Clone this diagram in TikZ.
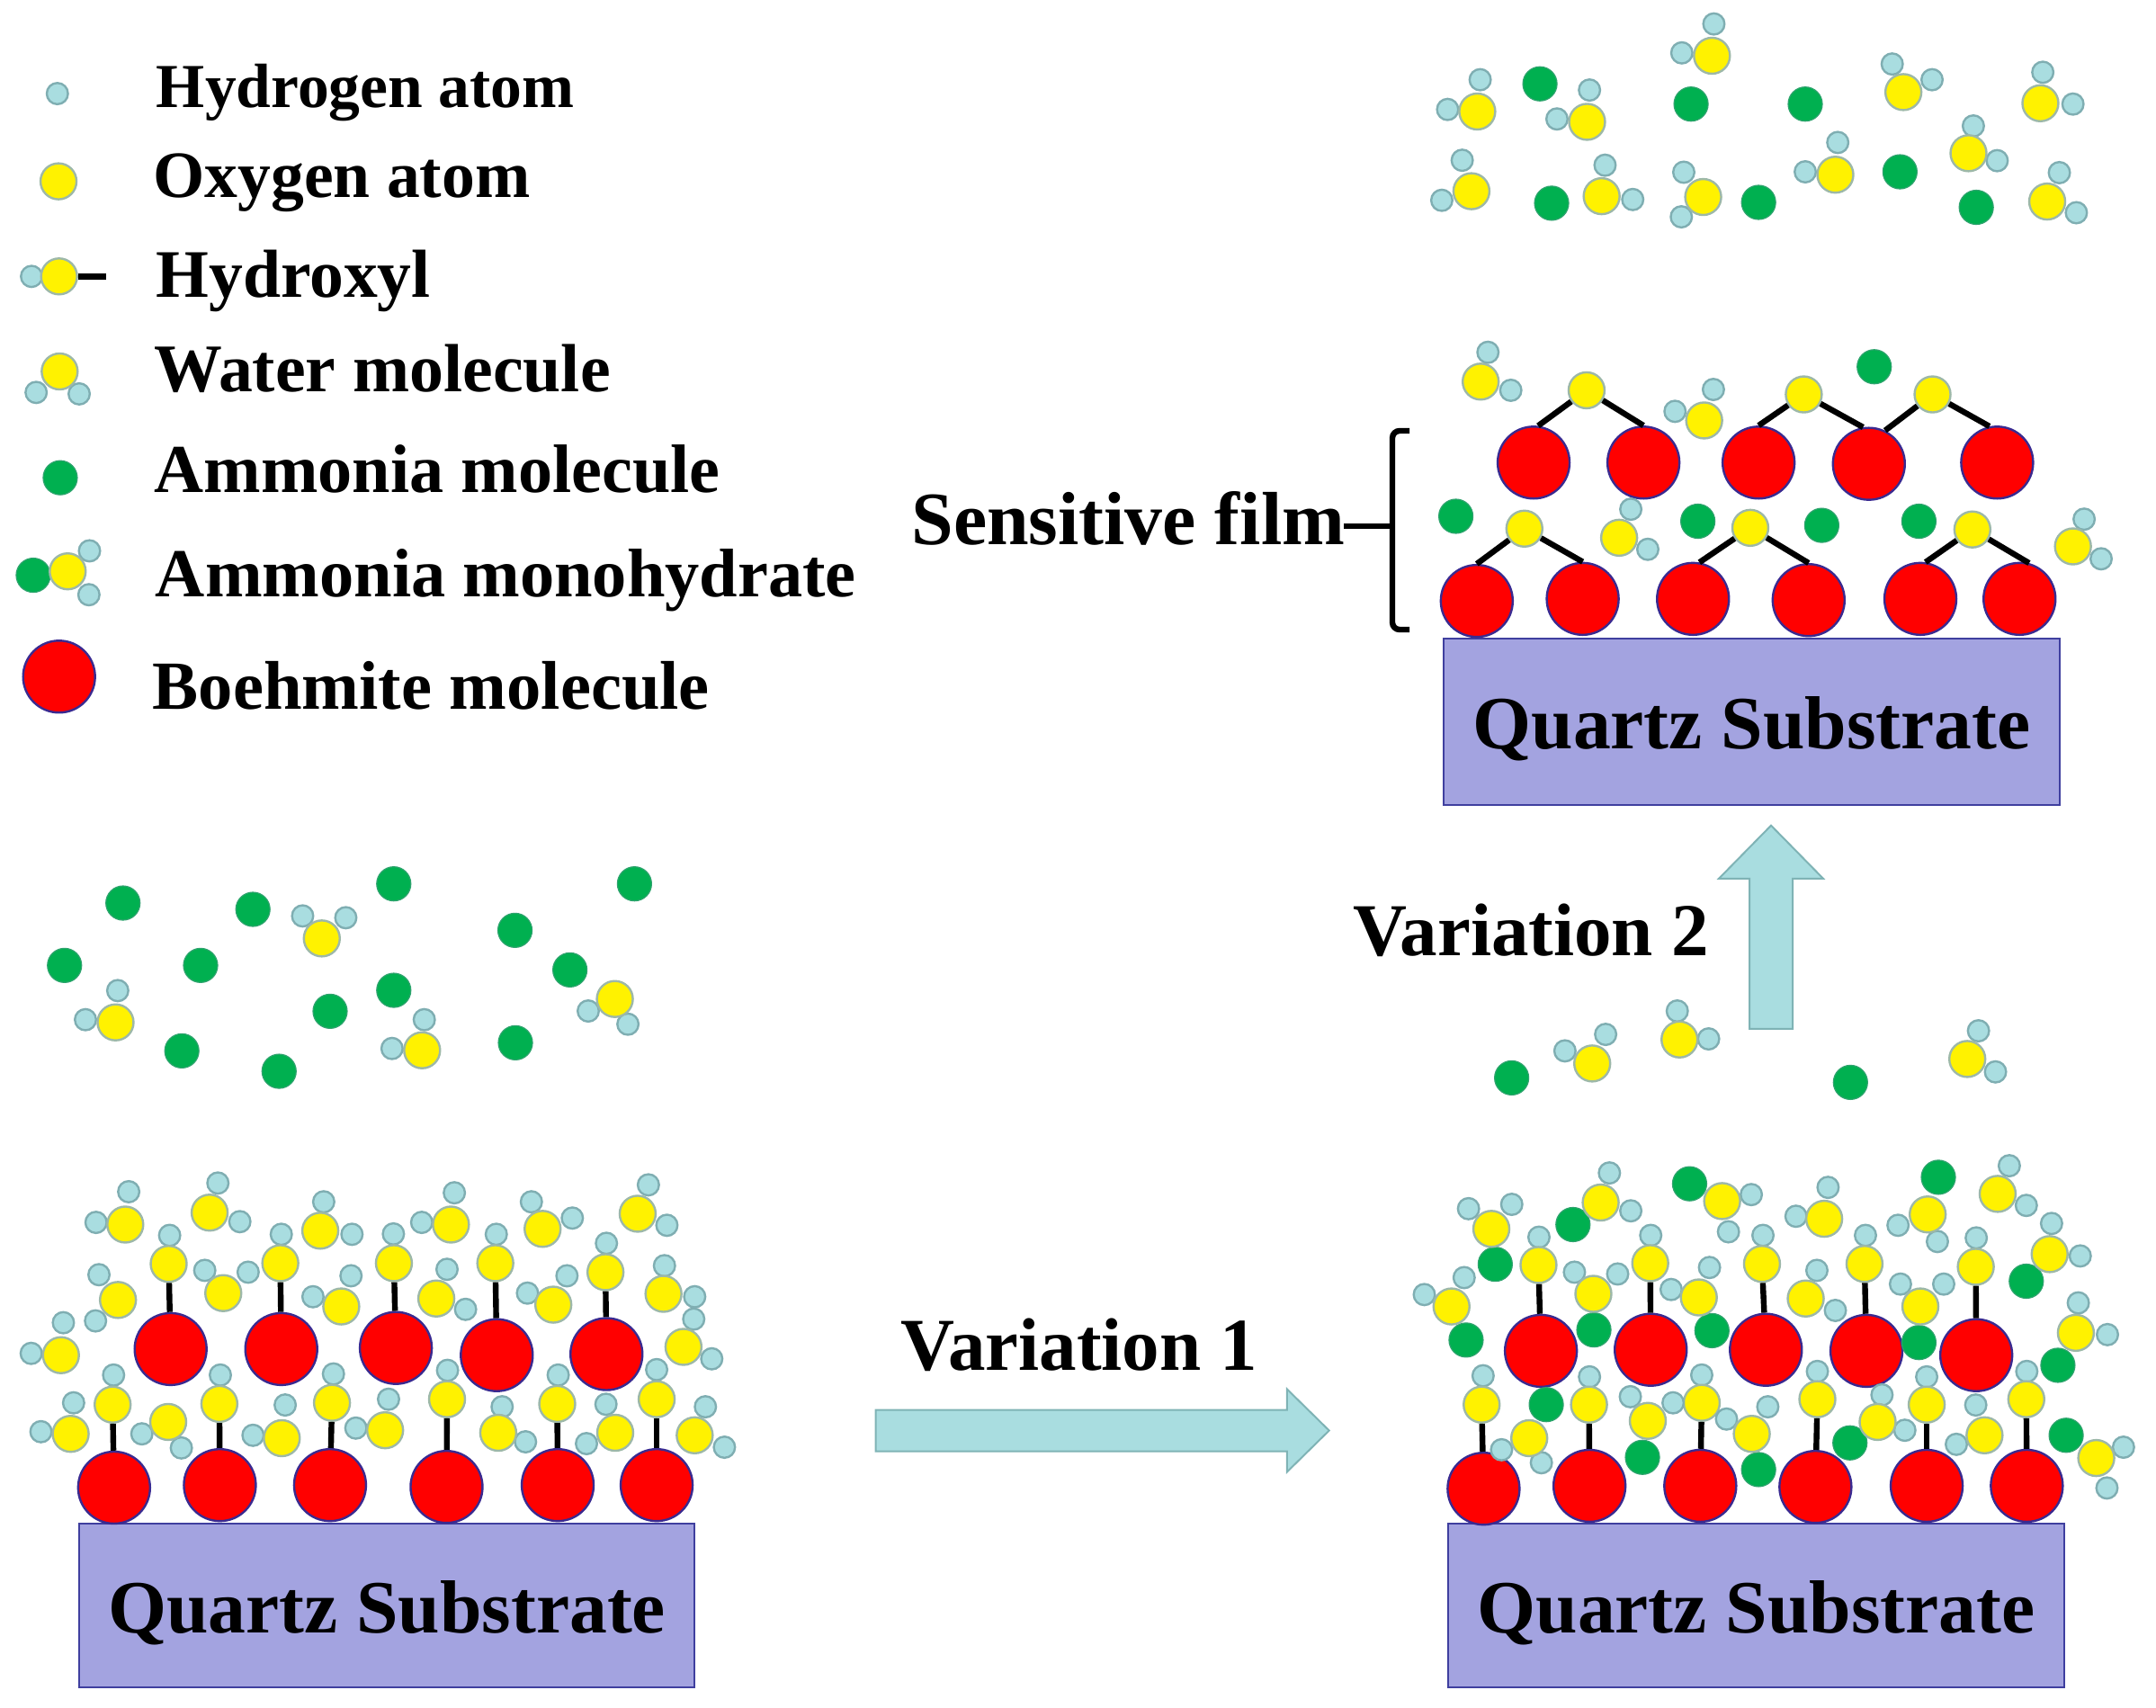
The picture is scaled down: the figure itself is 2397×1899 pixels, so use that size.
\documentclass[tikz,border=0pt]{standalone}
\usepackage{fontspec}
\setmainfont{Liberation Serif}
\usetikzlibrary{shapes.arrows}

\definecolor{hfill}{HTML}{A9DDE0}
\definecolor{hline}{HTML}{7FAEB2}
\definecolor{oline}{HTML}{9DB8A8}
\definecolor{gfill}{HTML}{00B050}
\definecolor{gline}{HTML}{2FA36E}
\definecolor{rline}{HTML}{3A2A90}
\definecolor{sfill}{HTML}{A3A3E0}
\definecolor{sline}{HTML}{3F3F9F}
\definecolor{aline}{HTML}{7FB3B5}

\tikzset{
  atom/.style={circle,inner sep=0pt,line width=1.2pt,draw},
  hyd/.style={atom,minimum size=11.8pt,fill=hfill,draw=hline},
  oxy/.style={atom,minimum size=20pt,fill=yellow,draw=oline},
  amm/.style={atom,minimum size=19pt,fill=gfill,draw=gline,line width=.6pt},
  boe/.style={atom,minimum size=40pt,fill=red,draw=rline},
  bond/.style={line width=3.2pt,black},
  sub/.style={draw=sline,fill=sfill,line width=1pt,minimum width=#1,minimum height=91pt,
    inner sep=0pt,text height=33pt,text depth=3pt,font=\fontsize{41.8}{45}\selectfont\bfseries},
  lab/.style={anchor=base west,inner sep=0pt,font=\fontsize{#1}{#1}\selectfont\bfseries},
  blockarrow/.style={single arrow,draw=aline,fill=hfill,line width=1pt,inner xsep=0pt,
    single arrow tip angle=89},
}

% water: ox/oy/h1x/h1y/h2x/h2y
\newcommand{\waters}[2]{%
  \foreach \ox/\oy/\ax/\ay/\bx/\by [count=\i] in {#2} {
    \node[hyd] (#1a\i) at (\ax,\ay) {};
    \node[hyd] (#1b\i) at (\bx,\by) {};
    \node[oxy] (#1o\i) at (\ox,\oy) {};
  }}
% ammonia monohydrate: water + green gx/gy
\newcommand{\hydrates}[2]{%
  \foreach \ox/\oy/\ax/\ay/\bx/\by/\gx/\gy [count=\i] in {#2} {
    \node[hyd] (#1a\i) at (\ax,\ay) {};
    \node[hyd] (#1b\i) at (\bx,\by) {};
    \node[amm] (#1g\i) at (\gx,\gy) {};
    \node[oxy] (#1o\i) at (\ox,\oy) {};
  }}
% boehmite with hydroxyl: rx/ry/ox/oy/hx/hy
\newcommand{\hydroxyls}[2]{%
  \foreach \rx/\ry/\ox/\oy/\hx/\hy [count=\i] in {#2} {
    \node[boe] (#1r\i) at (\rx,\ry) {};
    \node[hyd] (#1h\i) at (\hx,\hy) {};
    \node[oxy] (#1o\i) at (\ox,\oy) {};
    \draw[bond] (#1o\i) -- (#1r\i);
  }}
\newcommand{\ammonias}[2]{%
  \foreach \gx/\gy [count=\i] in {#2} {
    \node[amm] (#1g\i) at (\gx,\gy) {};
  }}

\begin{document}
\begin{tikzpicture}[x=0.5pt,y=-0.5pt]
\useasboundingbox (0,0) rectangle (2397,1899);

% legend
\node[lab=34.8] (t1) at (173.5,119.5) {Hydrogen atom};
\node[lab=36.8] (t2) at (170,220) {Oxygen atom};
\node[lab=37.8] (t3) at (173,331) {Hydroxyl};
\node[lab=37.9] (t4) at (171,435.5) {Water molecule};
\node[lab=38.1] (t5) at (171.5,547) {Ammonia molecule};
\node[lab=38.2] (t6) at (172.5,663) {Ammonia monohydrate};
\node[lab=38.3] (t7) at (169.5,788) {Boehmite molecule};
\begin{scope}[x=0.3189pt,y=-0.271pt]
  \node[hyd] (kh) at (100,192) {};
  \node[oxy] (ko) at (102,372) {};
  \node[hyd] (kxh) at (55,567) {};
  \node[oxy] (kxo) at (103,567) {};
  \coordinate (kxe) at (185,567);
  \draw[bond] (kxo) -- (kxe);
  \waters{kw}{104/762/63/805/138/808}
  \node[amm] (kg) at (105,980) {};
  \hydrates{km}{118/1172/156/1130/155/1220/58/1180}
  \node[boe] (kr) at (103,1388) {};
\end{scope}

% gas above the left film
\begin{scope}[shift={(0,940)},x=0.2424pt,y=-0.1667pt]
  \ammonias{p}{282/192,580/213,903/128,1455/128,1181/283,148/400,460/400,1307/415,
    903/483,757/553,417/685,640/753,1182/658}
  \waters{p}{738/310/694/235/793/241,265/590/270/484/196/581,
    968/683/973/581/899/677,1410/512/1349/552/1440/596}
\end{scope}

% left film
\node[sub=342pt] (subA) at (430,1785) {Quartz Substrate};
\begin{scope}[shift={(0,1270)},x=0.271pt,y=-0.2006pt]
  \hydroxyls{ha}{234/957/231/727/233/645,451/950/450/725/452/645,677/950/681/722/684/642,
    916/955/917/712/918/632,1144/950/1143/725/1145/645,1347/950/1347/712/1347/630}
  \hydroxyls{hb}{350/573/346/337/348/258,577/573/575/335/577/255,812/570/808/335/807/254,
    1019/590/1016/335/1018/255,1244/587/1242/360/1244/280}
  \waters{wa}{257/228/264/137/197/222,430/195/447/113/492/220,657/245/664/165/722/255,
    925/228/932/140/865/222,1113/240/1090/165/1174/210,1308/198/1330/118/1368/230,
    242/437/203/367/196/495,458/418/420/355/509/360,700/455/720/370/642/428,
    895/433/917/352/955/463,1135/450/1163/370/1082/418,1361/420/1363/342/1425/428,
    1402/567/1423/490/1460/600,125/590/130/500/64/585,
    145/808/151/722/84/802,345/775/291/808/372/847,578/820/585/728/519/812,
    790/798/797/712/730/792,1022/805/1030/733/1078/830,1262/805/1243/726/1203/835,
    1425/812/1447/733/1486/845}
\end{scope}

% arrows and their labels
\node[blockarrow,inner ysep=11pt,minimum height=252pt,minimum width=45pt,single arrow head extend=11.5pt] (arrA) at (1214,1590.5) {};
\node[lab=41.5] (varA) at (1001.5,1523) {Variation 1};
\node[blockarrow,rotate=90,inner ysep=11.5pt,minimum height=113pt,minimum width=57pt,single arrow head extend=17pt] (arrB) at (1969,1043) {};
\node[lab=41.5] (varB) at (1504,1062) {Variation 2};

% right film after variation 1
\node[sub=342.5pt] (subB) at (1952.5,1785) {Quartz Substrate};
\begin{scope}[shift={(1550,1270)},x=0.2701pt,y=-0.2006pt]
  \hydroxyls{hc}{184/960/180/727/183/647,402/952/401/727/402/650,630/952/633/722/633/645,
    867/955/871/712/871/635,1096/952/1096/727/1096/650,1302/952/1301/712/1302/635}
  \hydroxyls{hd}{302/578/297/340/298/263,528/575/527/335/528/258,765/575/757/337/759/258,
    972/578/968/337/970/258,1198/590/1197/345/1198/265}
  \waters{wb}{885/212/893/125/827/205,1242/143/1266/65/1301/175,847/433/870/355/908/466,
    1215/812/1197/728/1157/837}
  \hydrates{mb}{200/240/153/184/242/172/208/338,425/167/443/85/487/190/368/228,
    675/163/735/145/688/248/608/115,1098/200/1037/230/1118/275/1120/97,
    1349/310/1353/225/1412/315/1301/385,118/455/144/375/62/422/148/548,
    410/420/371/360/460/365/411/520,627/430/649/347/570/408/654/522,
    1083/455/1042/393/1131/393/1080/555,1403/528/1408/445/1468/533/1366/618,
    278/820/221/852/303/888/313/727,522/772/486/705/574/722/511/873,
    736/808/684/767/769/733/750/907,995/775/1004/700/1051/798/938/833,
    1445/875/1501/845/1467/958/1383/812}
\end{scope}

% gas between right film and top film
\begin{scope}[shift={(1500,900)},x=0.2488pt,y=-0.1667pt]
  \ammonias{q}{363/895,1120/910}
  \waters{q}{543/847/573/750/482/805,738/767/733/672/803/765,1381/832/1406/738/1444/875}
\end{scope}

% top film
\node[sub=342.5pt,minimum height=92.5pt] (subC) at (1947.5,802) {Quartz Substrate};
\begin{scope}[shift={(1550,0)},x=0.2701pt,y=-0.2296pt]
  \ammonias{s}{300/203,611/252,846/252,324/492,750/490,1041/416,1198/502}
  \waters{s}{171/270/177/193/110/265,397/295/402/218/335/288,654/135/658/58/592/128,
    1048/223/1025/155/1107/193,1330/250/1335/175/1397/252,159/463/140/388/98/485,
    427/475/434/400/491/483,636/477/596/417/591/525,908/423/913/345/846/416,
    1182/371/1192/305/1241/389,1344/488/1369/418/1404/515}
  \foreach \rx/\ry/\n in {287/1120/a,513/1120/b,750/1120/c,977/1123/d,1241/1120/e,
    170/1455/f,388/1450/g,615/1450/h,853/1453/i,1083/1450/j,1287/1450/k} {
    \node[boe] (film\n) at (\rx,\ry) {};
  }
  % bridge oxygen, its two boehmites and the border angles where the bonds land
  \foreach \ox/\oy/\l/\la/\r/\ra/\n in {396/945/a/83/b/90/1,843/955/c/90/d/99/2,1108/955/d/64/e/102/3,
    268/1280/f/90/g/90/4,733/1278/h/80/i/90/5,1190/1282/j/82/k/75/6} {
    \node[oxy] (bridge\n) at (\ox,\oy) {};
    \draw[bond] (bridge\n) -- (film\l.\la);
    \draw[bond] (bridge\n) -- (film\r.\ra);
  }
  \ammonias{f}{988/888,127/1250,625/1262,880/1272,1080/1262}
  \waters{f}{178/924/193/853/240/945,638/1018/657/943/578/996,463/1302/487/1233/522/1330,
    1397/1323/1420/1257/1455/1353}
\end{scope}

% sensitive film label and bracket
\node[lab=41.9] (film) at (1013,605) {Sensitive film};
\coordinate (brA) at (1567,479);
\coordinate (brB) at (1567,700);
\coordinate (brC) at (1548,479);
\coordinate (brD) at (1548,700);
\coordinate (brE) at (1548,585);
\coordinate (brF) at (1494,585);
\draw[bond,rounded corners=4pt] (brA) -- (brC) -- (brD) -- (brB);
\draw[bond] (brF) -- (brE);
\end{tikzpicture}
\end{document}
